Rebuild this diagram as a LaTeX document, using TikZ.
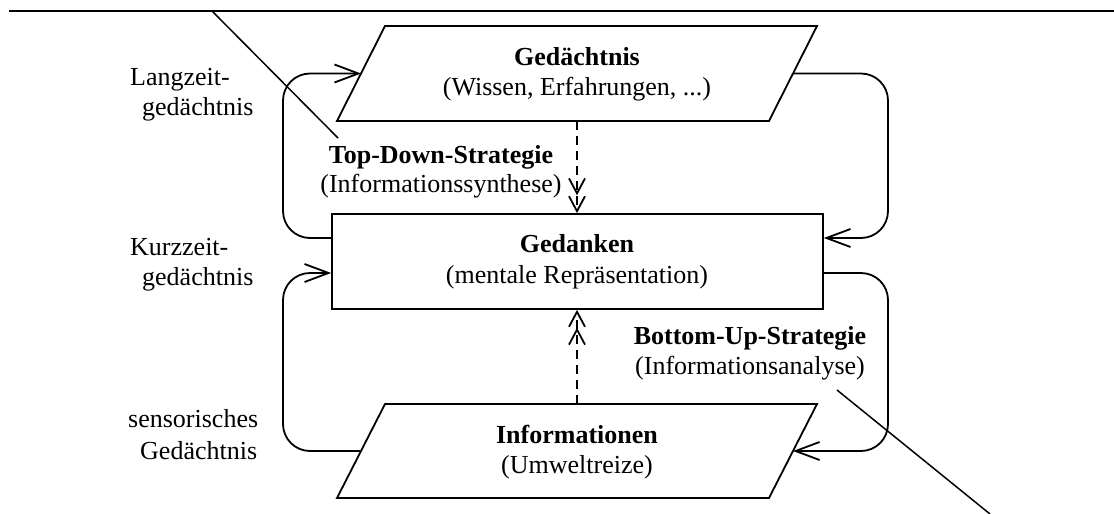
\documentclass[tikz,border=0pt]{standalone}
\usepackage{fontspec}
\setmainfont{Liberation Serif}
\usetikzlibrary{arrows.meta}
\begin{document}
\begin{tikzpicture}[x=1pt,y=-1pt,
  every node/.style={font=\fontsize{26}{30}\selectfont, inner sep=0pt},
  shapeline/.style={line width=1.8pt, line join=miter},
  conn/.style={line width=1.8pt, rounded corners=27pt,
    -{Straight Barb[length=24pt,width=18pt]}},
  flow/.style={line width=1.8pt, dash pattern=on 9pt off 6pt,
    -{Straight Barb[length=15pt,width=16pt] Straight Barb[length=15pt,width=16pt]}},
  rule/.style={line width=1.5pt},
  lbl/.style={anchor=base},
  side/.style={anchor=base west}]
\useasboundingbox (0,0) rectangle (1114,514);

% top rule and pointer lines
\coordinate (ruleL) at (9,11);
\coordinate (ruleR) at (1114,11);
\draw[rule] (ruleL) -- (ruleR);
\coordinate (tdA) at (212,11);
\coordinate (tdB) at (338,138);
\draw[rule] (tdA) -- (tdB);
\coordinate (buA) at (837,390);
\coordinate (buB) at (990,514);
\draw[rule] (buA) -- (buB);

% Gedächtnis (parallelogram)
\draw[shapeline] (385,26) -- (817,26) -- (769,121) -- (337,121) -- cycle;
\coordinate (gedW) at (361,73.5);
\coordinate (gedE) at (793,73.5);
\coordinate (gedS) at (577,121);
\node[lbl] (gedA) at (577,65) {\bfseries Gedächtnis};
\node[lbl] (gedB) at (577,95) {(Wissen, Erfahrungen, ...)};

% Gedanken (rectangle)
\node[draw, shapeline, minimum width=491pt, minimum height=95pt] (gdk) at (577.5,261.5) {};
\node[lbl] (gdkA) at (577,252) {\bfseries Gedanken};
\node[lbl] (gdkB) at (577,283) {(mentale Repräsentation)};
\coordinate (gdkWu) at ([yshift=23.5pt]gdk.west);
\coordinate (gdkEu) at ([yshift=23.5pt]gdk.east);
\coordinate (gdkWl) at ([yshift=-11.5pt]gdk.west);
\coordinate (gdkEl) at ([yshift=-11.5pt]gdk.east);

% Informationen (parallelogram)
\draw[shapeline] (385,404) -- (817,404) -- (769,498) -- (337,498) -- cycle;
\coordinate (infW) at (361,451);
\coordinate (infE) at (793,451);
\coordinate (infN) at (577,404);
\node[lbl] (infA) at (577,443) {\bfseries Informationen};
\node[lbl] (infB) at (577,473) {(Umweltreize)};

% loop columns
\coordinate (lx) at (283,0);
\coordinate (rx) at (888,0);

% feedback loops
\draw[conn] (gdkWu) -| (lx |- gedW) -- (gedW);
\draw[conn] (gedE) -| (rx |- gdkEu) -- (gdkEu);
\draw[conn] (gdkEl) -| (rx |- infE) -- (infE);
\draw[conn] (infW) -| (lx |- gdkWl) -- (gdkWl);

% processing directions
\draw[flow] (gedS) -- (gdk.north -| gedS);
\draw[flow] (infN) -- (gdk.south -| infN);

\node[lbl] (tdA1) at (441,163) {\bfseries Top-Down-Strategie};
\node[lbl] (tdA2) at (441,192) {(Informationssynthese)};
\node[lbl] (buA1) at (750,344) {\bfseries Bottom-Up-Strategie};
\node[lbl] (buA2) at (750,374) {(Informationsanalyse)};

% memory stages
\node[side] (lz1) at (130,85) {Langzeit-};
\node[side] (lz2) at (142,115) {gedächtnis};
\node[side] (kz1) at (130,255) {Kurzzeit-};
\node[side] (kz2) at (142,285) {gedächtnis};
\node[side] (sg1) at (128,427) {sensorisches};
\node[side] (sg2) at (140,459) {Gedächtnis};
\end{tikzpicture}
\end{document}
